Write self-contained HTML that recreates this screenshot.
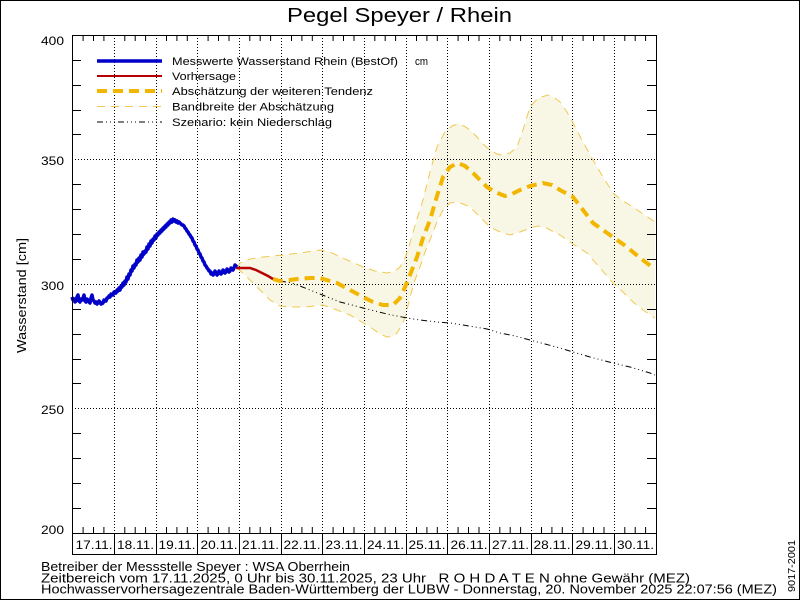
<!DOCTYPE html>
<html><head><meta charset="utf-8"><style>
html,body{margin:0;padding:0;background:#fff;}
svg{display:block;}
text{font-family:"Liberation Sans",sans-serif;fill:#000;}
</style></head><body>
<svg width="800" height="600" viewBox="0 0 800 600" xmlns="http://www.w3.org/2000/svg">
<rect x="0.5" y="0.5" width="799" height="599" fill="#fff" stroke="#000" stroke-width="1"/>
<!-- title -->
<text x="287" y="22" font-size="20" textLength="225" lengthAdjust="spacingAndGlyphs">Pegel Speyer / Rhein</text>

<!-- band fill -->
<path d="M237,268 L240,263 L250,259 L263,257 L283,255 L300,253 L320,250 L330,252 L340,257 L352,262 L363,267 L375,271 L387,273 L395,271 L400,267 L405,258 L410,243 L416,222 L423,200 L430,172 L437,147 L445,132 L452,126 L458,124 L464,126 L470,130 L477,137 L483,144 L490,150 L497,154 L503,155 L510,153 L517,147 L523,130 L530,107 L538,98 L548,95 L555,98 L560,102 L567,112 L573,123 L583,142 L593,160 L603,177 L613,193 L623,201 L633,207 L643,214 L655,222 L655,318 L643,310 L633,302 L623,292 L613,283 L600,268 L587,253 L573,244 L560,235 L552,231 L545,227 L538,226 L530,228 L520,232 L510,235 L500,232 L490,227 L480,217 L470,207 L463,204 L457,202 L450,203 L443,210 L437,222 L430,240 L425,252 L420,267 L415,280 L410,297 L407,310 L403,323 L397,333 L393,336 L387,337 L380,334 L370,327 L360,321 L350,315 L337,310 L323,305 L305,307 L290,307 L280,306 L270,300 L262,292 L253,283 L245,275 Z" fill="#f8f7e6" stroke="none"/>

<!-- grid dotted -->
<g stroke="#000" stroke-width="1" stroke-dasharray="1,2" fill="none">
<path d="M72,159.5H656M72,284.5H656M72,408.5H656"/>
<path d="M114.5,35V533M156.5,35V533M197.5,35V533M239.5,35V533M281.5,35V533M322.5,35V533M364.5,35V533M406.5,35V533M447.5,35V533M489.5,35V533M531.5,35V533M572.5,35V533M614.5,35V533"/>
</g>

<!-- band edges -->
<g fill="none" stroke="#f0c850" stroke-width="1" stroke-dasharray="8,6">
<polyline points="237,268 240,263 250,259 263,257 283,255 300,253 320,250 330,252 340,257 352,262 363,267 375,271 387,273 395,271 400,267 405,258 410,243 416,222 423,200 430,172 437,147 445,132 452,126 458,124 464,126 470,130 477,137 483,144 490,150 497,154 503,155 510,153 517,147 523,130 530,107 538,98 548,95 555,98 560,102 567,112 573,123 583,142 593,160 603,177 613,193 623,201 633,207 643,214 655,222"/>
<polyline points="237,268 245,275 253,283 262,292 270,300 280,306 290,307 305,307 323,305 337,310 350,315 360,321 370,327 380,334 387,337 393,336 397,333 403,323 407,310 410,297 415,280 420,267 425,252 430,240 437,222 443,210 450,203 457,202 463,204 470,207 480,217 490,227 500,232 510,235 520,232 530,228 538,226 545,227 552,231 560,235 573,244 587,253 600,268 613,283 623,292 633,302 643,310 655,318"/>
</g>

<!-- scenario no precipitation -->
<polyline fill="none" stroke="#000" stroke-width="1" stroke-dasharray="6,3,1,3,1,3,1,3" points="280,281 292,283 300,286 310,290 325,296 340,302 352,305 363,308 375,311 387,314 397,316 407,318 420,320 437,322 450,323 463,325 475,327 487,329 500,333 515,336 530,340 545,344 560,348 573,352 590,357 613,363 630,367 650,373 655,375"/>

<!-- tendency -->
<polyline fill="none" stroke="#f2b600" stroke-width="4" stroke-dasharray="10,6" points="273,279 280,281 290,280 297,279 310,278 320,278 330,281 337,283 350,290 363,297 373,302 383,305 393,305 400,298 405,287 410,275 417,257 423,238 430,220 437,196 443,177 450,167 458,163 465,166 473,173 480,180 487,187 495,192 505,196 512,194 520,190 530,186 543,183 552,185 560,190 573,197 583,210 593,223 610,235 627,247 640,258 655,269"/>

<!-- forecast -->
<polyline fill="none" stroke="#b80000" stroke-width="2.5" points="236,268 244,268 250,268 256,270 262,273 268,276 273,279"/>

<!-- measured -->
<polyline fill="none" stroke="#0000c8" stroke-width="3.5" stroke-linejoin="round" points="72,297 73,300 74,299 75,302 76,301 77,297 78,295 79,301 80,302 81,299 82,300 83,298 84,295 85,301 86,302 87,299 88,300 89,302 90,303 91,298 92,295 93,300 94,301 95,303 96,302 97,304 98,303 99,301 100,302 101,304 103,303 104,300 106,301 107,298 108,298 109,296 110,297 111,294 113,295 114,292 116,293 117,290 118,291 119,288 120,290 121,286 122,287 123,283 124,285 125,281 126,282 127,277 128,279 129,274 130,275 131,270 132,271 133,266 134,268 135,264 136,265 137,260 138,262 139,258 140,260 141,255 142,257 143,252 144,254 145,251 146,252 147,247 148,249 149,244 150,246 151,241 152,243 153,239 154,240 155,236 156,238 157,234 158,235 159,232 160,233 161,230 162,231 163,228 164,229 165,226 166,227 167,224 168,225 169,222 170,223 171,220 172,222 173,219 174,221 175,220 176,222 177,221 178,223 179,222 180,223 181,224 182,225 183,225 184,226 185,228 186,229 187,231 188,232 189,234 190,235 191,237 192,238 193,241 194,242 195,245 196,246 197,249 198,250 199,253 200,254 201,257 202,258 203,261 204,262 205,265 206,266 207,268 208,269 209,271 210,271 211,274 212,273 213,275 214,274 215,271 216,273 217,275 218,274 219,271 220,272 221,274 222,273 223,270 224,271 225,273 226,272 227,269 228,270 229,272 230,271 231,268 232,269 233,270 234,268 235,265 236,266 237,267"/>

<!-- axes frame -->
<g stroke="#000" stroke-width="1" fill="none">
<path d="M72.5,35V554.5M656.5,35V554.5M72,35.5H657M72,533.5H657M72,554.5H657"/>
<path d="M114.5,533V554M156.5,533V554M197.5,533V554M239.5,533V554M281.5,533V554M322.5,533V554M364.5,533V554M406.5,533V554M447.5,533V554M489.5,533V554M531.5,533V554M572.5,533V554M614.5,533V554"/>
</g>
<!-- time ticks (6h) -->
<g stroke="#000" stroke-width="1" fill="none">
<path d="M83.1,35V41M93.5,35V41M103.9,35V41 M124.8,35V41M135.2,35V41M145.6,35V41 M166.5,35V41M176.9,35V41M187.3,35V41 M208.1,35V41M218.5,35V41M229.0,35V41 M249.8,35V41M260.2,35V41M270.6,35V41 M291.5,35V41M301.9,35V41M312.3,35V41 M333.1,35V41M343.5,35V41M354.0,35V41 M374.8,35V41M385.2,35V41M395.6,35V41 M416.5,35V41M426.9,35V41M437.3,35V41 M458.1,35V41M468.5,35V41M479.0,35V41 M499.8,35V41M510.2,35V41M520.6,35V41 M541.5,35V41M551.9,35V41M562.3,35V41 M583.1,35V41M593.5,35V41M604.0,35V41 M624.8,35V41M635.2,35V41M645.6,35V41"/>
<path d="M83.1,533V527M93.5,533V527M103.9,533V527 M124.8,533V527M135.2,533V527M145.6,533V527 M166.5,533V527M176.9,533V527M187.3,533V527 M208.1,533V527M218.5,533V527M229.0,533V527 M249.8,533V527M260.2,533V527M270.6,533V527 M291.5,533V527M301.9,533V527M312.3,533V527 M333.1,533V527M343.5,533V527M354.0,533V527 M374.8,533V527M385.2,533V527M395.6,533V527 M416.5,533V527M426.9,533V527M437.3,533V527 M458.1,533V527M468.5,533V527M479.0,533V527 M499.8,533V527M510.2,533V527M520.6,533V527 M541.5,533V527M551.9,533V527M562.3,533V527 M583.1,533V527M593.5,533V527M604.0,533V527 M624.8,533V527M635.2,533V527M645.6,533V527"/>
<!-- y ticks every 10 -->
<path d="M72,60.5H81M72,85.5H81M72,110.5H81M72,134.5H81M72,184.5H81M72,209.5H81M72,234.5H81M72,259.5H81M72,309.5H81M72,334.5H81M72,359.5H81M72,383.5H81M72,433.5H81M72,458.5H81M72,483.5H81M72,508.5H81"/>
<path d="M647,60.5H656M647,85.5H656M647,110.5H656M647,134.5H656M647,184.5H656M647,209.5H656M647,234.5H656M647,259.5H656M647,309.5H656M647,334.5H656M647,359.5H656M647,383.5H656M647,433.5H656M647,458.5H656M647,483.5H656M647,508.5H656"/>
</g>

<!-- y labels -->
<g font-size="12">
<text x="41" y="45" textLength="23" lengthAdjust="spacingAndGlyphs">400</text>
<text x="41" y="165" textLength="23" lengthAdjust="spacingAndGlyphs">350</text>
<text x="41" y="290" textLength="23" lengthAdjust="spacingAndGlyphs">300</text>
<text x="41" y="414" textLength="23" lengthAdjust="spacingAndGlyphs">250</text>
<text x="41" y="534" textLength="23" lengthAdjust="spacingAndGlyphs">200</text>
</g>
<text transform="translate(26,353) rotate(-90)" font-size="13" textLength="115" lengthAdjust="spacingAndGlyphs">Wasserstand [cm]</text>

<!-- date labels -->
<g font-size="12" text-anchor="middle">
<text x="94" y="549" textLength="37" lengthAdjust="spacingAndGlyphs">17.11.</text>
<text x="135.5" y="549" textLength="37" lengthAdjust="spacingAndGlyphs">18.11.</text>
<text x="177" y="549" textLength="37" lengthAdjust="spacingAndGlyphs">19.11.</text>
<text x="219" y="549" textLength="37" lengthAdjust="spacingAndGlyphs">20.11.</text>
<text x="260.5" y="549" textLength="37" lengthAdjust="spacingAndGlyphs">21.11.</text>
<text x="302" y="549" textLength="37" lengthAdjust="spacingAndGlyphs">22.11.</text>
<text x="344" y="549" textLength="37" lengthAdjust="spacingAndGlyphs">23.11.</text>
<text x="385.5" y="549" textLength="37" lengthAdjust="spacingAndGlyphs">24.11.</text>
<text x="427" y="549" textLength="37" lengthAdjust="spacingAndGlyphs">25.11.</text>
<text x="469" y="549" textLength="37" lengthAdjust="spacingAndGlyphs">26.11.</text>
<text x="510.5" y="549" textLength="37" lengthAdjust="spacingAndGlyphs">27.11.</text>
<text x="552" y="549" textLength="37" lengthAdjust="spacingAndGlyphs">28.11.</text>
<text x="594" y="549" textLength="37" lengthAdjust="spacingAndGlyphs">29.11.</text>
<text x="635.5" y="549" textLength="37" lengthAdjust="spacingAndGlyphs">30.11.</text>
</g>

<!-- legend -->
<g fill="none">
<path d="M97,61H162" stroke="#0000c8" stroke-width="3.5"/>
<path d="M97,76H162" stroke="#b80000" stroke-width="2"/>
<path d="M97,91H162" stroke="#f2b600" stroke-width="4" stroke-dasharray="10,6"/>
<path d="M97,106.5H162" stroke="#f0c850" stroke-width="1" stroke-dasharray="8,6"/>
<path d="M97,122H162" stroke="#000" stroke-width="1" stroke-dasharray="6,3,1,3,1,3,1,3"/>
</g>
<g font-size="11">
<text x="172" y="65" textLength="226" lengthAdjust="spacingAndGlyphs">Messwerte Wasserstand Rhein (BestOf)</text>
<text x="415" y="65" textLength="13" lengthAdjust="spacingAndGlyphs">cm</text>
<text x="172" y="80" textLength="64" lengthAdjust="spacingAndGlyphs">Vorhersage</text>
<text x="172" y="95" textLength="201" lengthAdjust="spacingAndGlyphs">Abschätzung der weiteren Tendenz</text>
<text x="172" y="110.5" textLength="162" lengthAdjust="spacingAndGlyphs">Bandbreite der Abschätzung</text>
<text x="172" y="126" textLength="160" lengthAdjust="spacingAndGlyphs">Szenario: kein Niederschlag</text>
</g>

<!-- footer -->
<g font-size="12.5" fill="#000">
<text x="41" y="571" textLength="309" lengthAdjust="spacingAndGlyphs">Betreiber der Messstelle Speyer : WSA Oberrhein</text>
<text x="41" y="582.5" textLength="649" lengthAdjust="spacingAndGlyphs" xml:space="preserve">Zeitbereich vom 17.11.2025, 0 Uhr bis 30.11.2025, 23 Uhr   R O H D A T E N ohne Gewähr (MEZ)</text>
<text x="41" y="593.5" textLength="736" lengthAdjust="spacingAndGlyphs">Hochwasservorhersagezentrale Baden-Württemberg der LUBW - Donnerstag, 20. November 2025 22:07:56 (MEZ)</text>
</g>
<text transform="translate(795,592) rotate(-90)" font-size="10.5" textLength="52" lengthAdjust="spacingAndGlyphs">9017-2001</text>
</svg>
</body></html>
